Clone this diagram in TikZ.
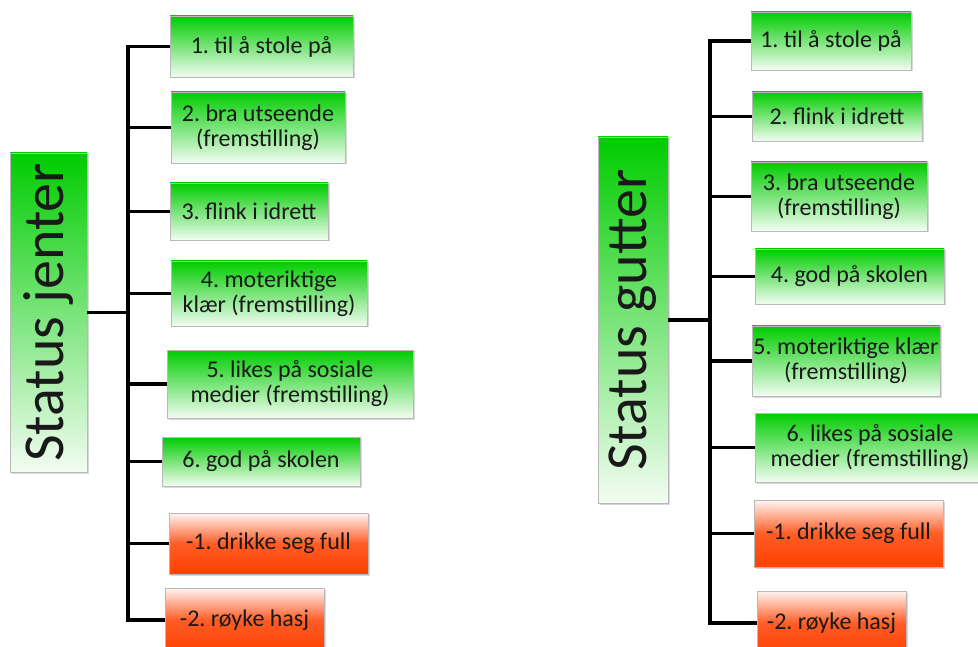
\documentclass[tikz,border=0pt]{standalone}
\usepackage{fontspec}
\setmainfont{Carlito}
\usetikzlibrary{shadows}
\definecolor{grn}{RGB}{0,204,0}
\definecolor{orng}{RGB}{255,64,0}
\frenchspacing
\begin{document}
\begin{tikzpicture}[x = 1pt, y = -1pt,
                box/.style = {draw = gray!55, line width = 0.8pt, inner sep = 0pt, align = center,
                    font = \fontsize{24}{25}\selectfont, text = black!90,
                    drop shadow = {opacity = 0.3, shadow xshift = 1.5pt, shadow yshift = -1.5pt}},
                good/.style = {box, top color = grn, bottom color = grn!5},
                bad/.style = {box, top color = orng!5, bottom color = orng, middle color = orng!85},
                root/.style = {box, rotate = 90, top color = grn, bottom color = grn!5,
                    font = \fontsize{58}{60}\selectfont},
                branch/.style = {line width = 3.2pt}]
                \clip (0, 0) rectangle (978, 647);
                \path
                    node [root, minimum width = 319pt, minimum height = 77pt] (jenter) at (48.5, 312.5) {Status jenter}
                    node [good, minimum width = 183pt, minimum height = 61pt] (j1) at (261.5, 46.5) {1. til å stole på}
                    node [good, minimum width = 174pt, minimum height = 71pt] (j2) at (258, 127.5) {2. bra utseende\\(fremstilling)}
                    node [good, minimum width = 158pt, minimum height = 57pt] (j3) at (249, 211.5) {3. flink i idrett}
                    node [good, minimum width = 196pt, minimum height = 65pt] (j4) at (269, 293.5) {4. moteriktige\\klær (fremstilling)}
                    node [good, minimum width = 246pt, minimum height = 68pt] (j5) at (290, 384) {5. likes på sosiale\\medier (fremstilling)}
                    node [good, minimum width = 198pt, minimum height = 49pt] (j6) at (261, 461.5) {6. god på skolen}
                    node [bad, minimum width = 199pt, minimum height = 61pt] (jm1) at (268.5, 543.5) {-1. drikke seg full}
                    node [bad, minimum width = 159pt, minimum height = 64pt] (jm2) at (244.5, 620) {-2. røyke hasj};
                \path
                    node [root, minimum width = 366pt, minimum height = 70pt] (gutter) at (633, 320) {Status gutter}
                    node [good, minimum width = 160pt, minimum height = 58pt] (g1) at (831, 41) {1. til å stole på}
                    node [good, minimum width = 170pt, minimum height = 49pt] (g2) at (837, 116.5) {2. flink i idrett}
                    node [good, minimum width = 176pt, minimum height = 69pt] (g3) at (839, 196.5) {3. bra utseende\\(fremstilling)}
                    node [good, minimum width = 189pt, minimum height = 55pt] (g4) at (849.5, 276.5) {4. god på skolen}
                    node [good, minimum width = 188pt, minimum height = 70pt] (g5) at (846, 361) {5. moteriktige klær\\(fremstilling)}
                    node [good, minimum width = 230pt, minimum height = 69pt] (g6) at (870, 447.5) {6. likes på sosiale\\medier (fremstilling)}
                    node [bad, minimum width = 189pt, minimum height = 67pt] (gm1) at (848.5, 533.5) {-1. drikke seg full}
                    node [bad, minimum width = 149pt, minimum height = 64pt] (gm2) at (831.5, 623) {-2. røyke hasj};
                \coordinate (jx) at (128, 312.5);
                \coordinate (gx) at (710, 320);
                \draw [branch]
                    (jenter.south) -- (jx)
                    (jx) |- (j1.west) (jx) |- (j2.west) (jx) |- (j3.west) (jx) |- (j4.west)
                    (jx) |- (j5.west) (jx) |- (j6.west) (jx) |- (jm1.west) (jx) |- (jm2.west);
                \draw [branch]
                    (gutter.south) -- (gx)
                    (gx) |- (g1.west) (gx) |- (g2.west) (gx) |- (g3.west) (gx) |- (g4.west)
                    (gx) |- (g5.west) (gx) |- (g6.west) (gx) |- (gm1.west) (gx) |- (gm2.west);
            \end{tikzpicture}
\end{document}
